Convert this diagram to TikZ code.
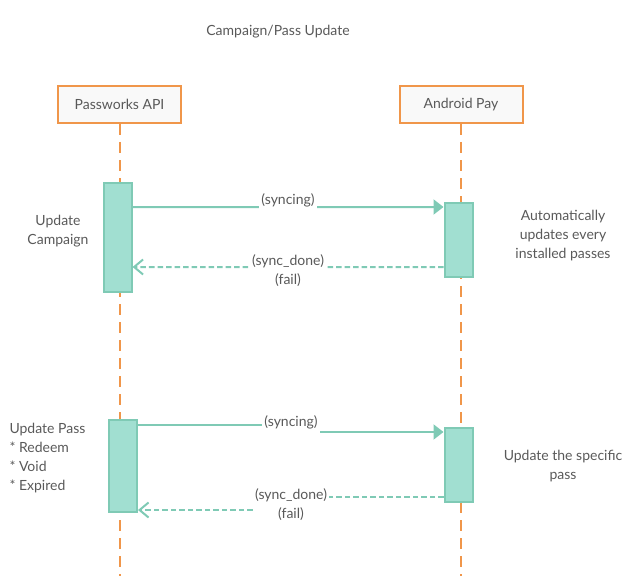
\documentclass[tikz,border=0pt]{standalone}
\usepackage{fontspec}
\setmainfont{Lato}
\usetikzlibrary{arrows.meta}
\definecolor{lifeorange}{HTML}{F0964A}
\definecolor{msgteal}{HTML}{7FCAB5}
\definecolor{actfill}{HTML}{A1DFD1}
\definecolor{boxgray}{HTML}{F9F9F9}
\definecolor{textgray}{HTML}{595959}
\tikzset{
  actor/.style={draw=lifeorange, line width=2bp, fill=boxgray, text=textgray,
    minimum width=123bp, minimum height=37bp},
  lifeline/.style={draw=lifeorange, line width=2bp, dash pattern=on 11bp off 7bp},
  activation/.style={draw=msgteal, line width=2bp, fill=actfill,
    minimum width=28bp, inner sep=0pt},
  msg/.style={draw=msgteal, line width=2bp, -{Triangle[length=10bp,width=15bp]}},
  reply/.style={draw=msgteal, line width=2bp, dash pattern=on 5.5bp off 3bp,
    -{Straight Barb[length=9bp,width=15bp]}},
  lbl/.style={fill=white, text=textgray, align=center, inner sep=2bp},
  note/.style={text=textgray, align=center}
}

\begin{document}
\begin{tikzpicture}[x=1bp, y=-1bp, font=\fontsize{14bp}{19bp}\selectfont]
  \useasboundingbox (0,0) rectangle (643,576);

  \node [note] (title) at (278,32) {Campaign/Pass Update};

  \node [actor] (api) at (119.5,104.5) {Passworks API};
  \node [actor] (pay) at (461,104.5) {Android Pay};
  \coordinate (apiend) at (119.5,576);
  \coordinate (payend) at (461,576);
  \draw [lifeline] (api) -- (apiend);
  \draw [lifeline] (pay) -- (payend);

  % campaign update
  \node [activation, minimum height=109bp] (act1) at (117.5,237.5) {};
  \node [activation, minimum height=74bp] (act2) at (458.5,240) {};
  \draw [msg] ([yshift=30.5bp]act1.east) -- node [lbl, yshift=7bp] {(syncing)}
    ([yshift=33bp]act2.west);
  \draw [reply] ([yshift=-27bp]act2.west) -- node [lbl, yshift=-4bp] {(sync\_done)\\(fail)}
    ([yshift=-29.5bp]act1.east);
  \node [note] (campaign) at (58,231.5) {Update\\Campaign};
  \node [note] (auto) at (563,236) {Automatically\\updates every\\installed passes};

  % pass update
  \node [activation, minimum height=92bp] (act3) at (123,466) {};
  \node [activation, minimum height=74bp] (act4) at (458.5,465) {};
  \coordinate (step1) at (291,428);
  \coordinate (step2) at (291,503);
  \draw [msg] ([yshift=41bp]act3.east) -| (step1) |- ([yshift=33bp]act4.west);
  \draw [reply] ([yshift=-32bp]act4.west) -| (step2) |- ([yshift=-44bp]act3.east);
  \node [lbl, minimum height=25bp] (sync2) at (291,422) {(syncing)};
  \node [lbl] (done2) at (291,504.5) {(sync\_done)\\(fail)};
  \node [note, align=left, anchor=west] (pass) at (6,458.5)
    {Update Pass\\* Redeem\\* Void\\* Expired};
  \node [note] (specific) at (563,466.5) {Update the specific\\pass};
\end{tikzpicture}
\end{document}
